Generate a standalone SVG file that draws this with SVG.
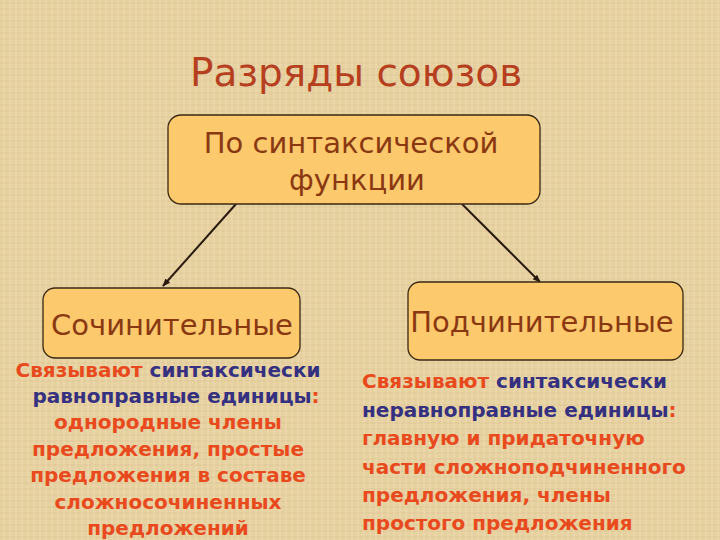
<svg xmlns="http://www.w3.org/2000/svg" width="720" height="540" viewBox="0 0 720 540">
<defs>
<pattern id="linen" width="12" height="12" patternUnits="userSpaceOnUse">
<rect width="12" height="12" fill="#e6d1a1"/>
<path d="M0 3H12M0 9H12" stroke="#d6be88" stroke-width="1" opacity="0.45"/>
<path d="M4 0V12M10 0V12" stroke="#f2e2b8" stroke-width="1" opacity="0.55"/>
</pattern>
<marker id="arr" viewBox="0 0 10 10" refX="9" refY="5" markerWidth="8" markerHeight="8" orient="auto" markerUnits="userSpaceOnUse">
<path d="M0 1L10 5L0 9z" fill="#2a1a10"/>
</marker>
<style>
.box{fill:#fcc96c;stroke:#3a2812;stroke-width:1.3}
.bt{font-family:"DejaVu Sans",sans-serif;fill:#8a3812;text-anchor:middle}
.title{font-family:"DejaVu Sans",sans-serif;fill:#b53f1e;font-size:39px;text-anchor:middle}
.body{font-family:"DejaVu Sans",sans-serif;font-weight:bold;font-size:20px;fill:#e84a1e}
.blue{fill:#35307f}
.conn{stroke:#2a1a10;stroke-width:2;fill:none;marker-end:url(#arr)}
</style>
</defs>
<rect width="720" height="540" fill="url(#linen)"/>
<text class="title" x="356" y="86">Разряды союзов</text>
<g id="connectors">
<line class="conn" x1="236" y1="204" x2="163" y2="286"/>
<line class="conn" x1="462" y1="204" x2="540" y2="282"/>
</g>
<g id="top">
<rect class="box" x="168" y="115" width="372" height="89" rx="13"/>
<text class="bt" x="351" y="153" font-size="29">По синтаксической</text>
<text class="bt" x="357" y="190" font-size="29">функции</text>
</g>
<g id="left">
<rect class="box" x="43" y="288" width="257" height="70" rx="12"/>
<text class="bt" x="172" y="335" font-size="29">Сочинительные</text>
</g>
<g id="right">
<rect class="box" x="408" y="282" width="275" height="78" rx="12"/>
<text class="bt" x="542" y="332" font-size="29">Подчинительные</text>
</g>
<g id="left-desc" class="body" text-anchor="middle">
<text x="168" y="377">Связывают <tspan class="blue">синтаксически</tspan></text>
<text x="176" y="403"><tspan class="blue">равноправные единицы</tspan>:</text>
<text x="168" y="429">однородные члены</text>
<text x="168" y="456">предложения, простые</text>
<text x="168" y="482">предложения в составе</text>
<text x="168" y="509">сложносочиненных</text>
<text x="168" y="535">предложений</text>
</g>
<g id="right-desc" class="body">
<text x="362" y="388">Связывают <tspan class="blue">синтаксически</tspan></text>
<text x="362" y="417"><tspan class="blue">неравноправные единицы</tspan>:</text>
<text x="362" y="445">главную и придаточную</text>
<text x="362" y="474">части сложноподчиненного</text>
<text x="362" y="502">предложения, члены</text>
<text x="362" y="530">простого предложения</text>
</g>
</svg>
